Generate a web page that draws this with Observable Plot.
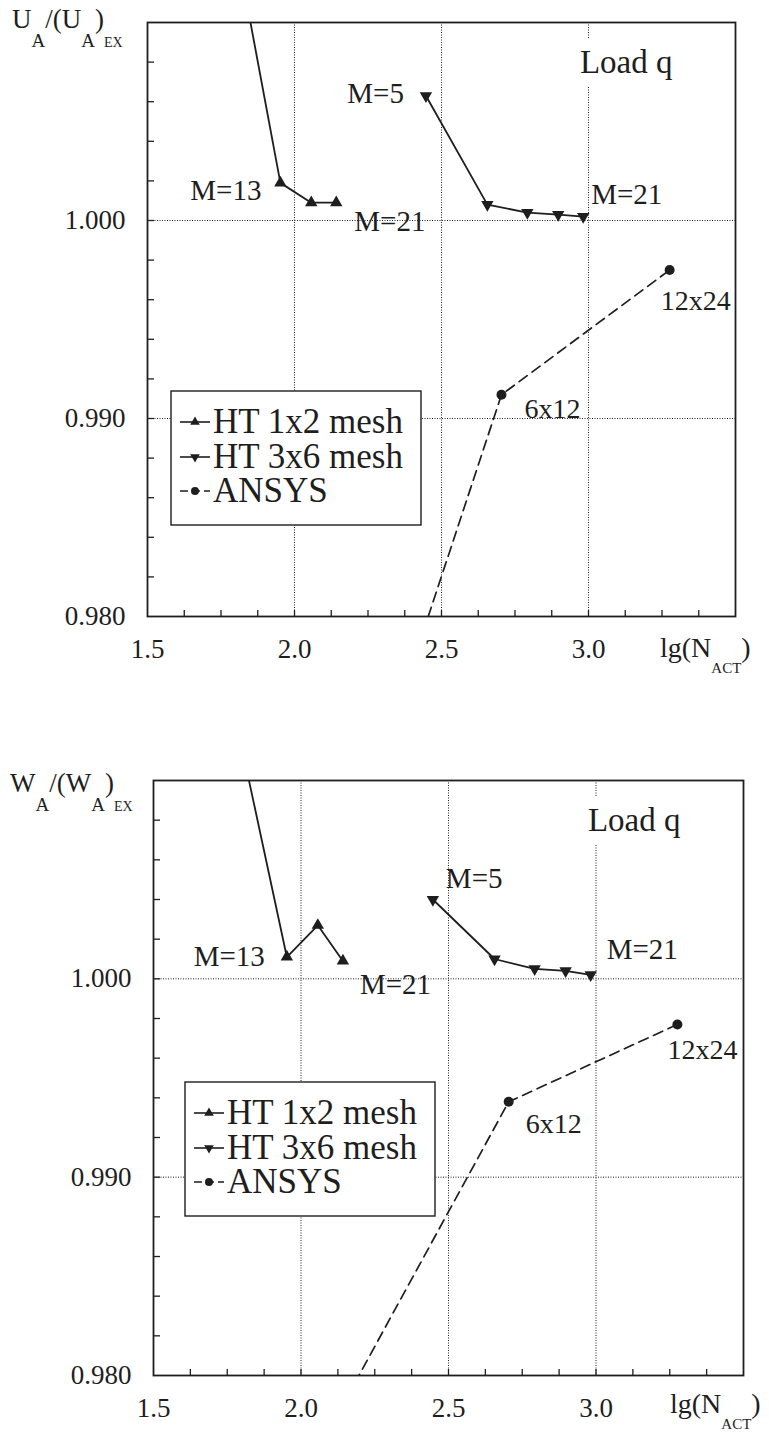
<!DOCTYPE html>
<html>
<head>
<meta charset="utf-8">
<script src="https://cdn.jsdelivr.net/npm/d3@7"></script>
<script src="https://cdn.jsdelivr.net/npm/@observablehq/plot@0.6"></script>
<style>
  html, body { margin: 0; padding: 0; background: #fff; }
  #charts svg { display: block; font-family: 'Liberation Serif', 'Times New Roman', serif; }
</style>
</head>
<body>
<div id="charts"></div>
<script>
// lg(N_ACT) of each discretisation
const xHT1 = [1.815, 1.952, 2.057, 2.142];        // HT 1x2 mesh, M = 9, 13, 17, 21
const xHT3 = [2.447, 2.656, 2.792, 2.897, 2.982];  // HT 3x6 mesh, M = 5, 9, 13, 17, 21
const xANSYS = [2.13, 2.704, 3.276];               // ANSYS meshes 3x6, 6x12, 12x24
const mHT1 = [9, 13, 17, 21];
const mHT3 = [5, 9, 13, 17, 21];
const meshANSYS = ["3x6", "6x12", "12x24"];

// U_A/(U_A)_EX
const uHT1 = [1.0128, 1.0019, 1.0009, 1.0009];
const uHT3 = [1.0063, 1.0008, 1.0004, 1.0003, 1.0002];
const uANSYS = [0.9654, 0.9912, 0.9975];

// W_A/(W_A)_EX
const wHT1 = [1.0106, 1.0011, 1.0027, 1.0009];
const wHT3 = [1.0040, 1.0010, 1.0005, 1.0004, 1.0002];
const wANSYS = [0.9782, 0.9938, 0.9977];

// axes
const xLabelTicks = [1.5, 2.0, 2.5, 3.0];
const yLabelTicks = [0.980, 0.990, 1.000];
const xGrid = [2.0, 2.5, 3.0];
const yGrid = [0.990, 1.000];
const seriesNames = ["HT 1x2 mesh", "HT 3x6 mesh", "ANSYS"];

const ink = "#1e1e1e";
const font = "'Liberation Serif', 'Times New Roman', serif";
const minorX = d3.range(1, 16).map(i => 1.5 + i * 0.125);
const minorY = d3.range(1, 15).map(i => 0.98 + i * 0.002);

const panels = [
  {
    q: "U", ht1: uHT1, ht3: uHT3, ansys: uANSYS,
    height: 700, margin: [22, 34, 84, 147],
    titleX: 12, titleY: 28, xlabX: 660, xlabY: 657,
    load: [-63, 40],
    labels: { m13: [-19, 8, "end"], m21a: [18, 19, "start"], m5: [-22, -2, "end"],
              m21b: [8, -22, "start"], a6: [23, 14, "start"], a12: [-9, 31, "start"] },
    legend: [24, 369]
  },
  {
    q: "W", ht1: wHT1, ht3: wHT3, ansys: wANSYS,
    height: 738, margin: [80, 26, 63, 153],
    titleX: 10, titleY: 92, xlabX: 670, xlabY: 713,
    load: [-63, 40],
    labels: { m13: [-22, 0, "end"], m21a: [17, 24, "start"], m5: [13, -21, "start"],
              m21b: [16, -25, "start"], a6: [17, 22, "start"], a12: [-10, 26, "start"] },
    legend: [32, 302]
  }
];

function draw(p) {
  const [mt, mr, mb, ml] = p.margin;
  const ht1 = xHT1.map((x, i) => ({x, y: p.ht1[i], m: mHT1[i]}));
  const ht3 = xHT3.map((x, i) => ({x, y: p.ht3[i], m: mHT3[i]}));
  const ans = xANSYS.map((x, i) => ({x, y: p.ansys[i], mesh: meshANSYS[i]}));

  const label = (d, text, [dx, dy, anchor], size) =>
    Plot.text([d], {x: "x", y: "y", text: () => text, dx, dy, textAnchor: anchor,
                    lineAnchor: "middle", fontSize: size, fontFamily: font, fill: ink});

  const chart = Plot.plot({
    width: 769, height: p.height,
    marginTop: mt, marginRight: mr, marginBottom: mb, marginLeft: ml,
    style: {fontFamily: font, background: "white", color: ink, overflow: "visible"},
    x: {domain: [1.5, 3.5], label: null},
    y: {domain: [0.98, 1.01], label: null},
    marks: [
      // dotted grid
      Plot.ruleX(xGrid, {stroke: ink, strokeWidth: 1, strokeDasharray: "1,1.5"}),
      Plot.ruleY(yGrid, {stroke: ink, strokeWidth: 1, strokeDasharray: "1,1.5"}),
      // inward ticks
      Plot.axisX(minorX, {tickSize: -6, tickFormat: () => "", label: null, strokeWidth: 1.3}),
      Plot.axisY(minorY, {tickSize: -7, tickFormat: () => "", label: null, strokeWidth: 1.3}),
      // tick labels
      Plot.axisX(xLabelTicks, {tickSize: 0, tickPadding: 22, fontSize: 27, fontFamily: font,
        tickFormat: d3.format(".1f"), label: null}),
      Plot.axisY(yLabelTicks, {tickSize: 0, tickPadding: 22, fontSize: 27, fontFamily: font,
        tickFormat: d3.format(".3f"), label: null}),
      // load case note
      Plot.text(["Load q"], {frameAnchor: "top-right", dx: p.load[0], dy: p.load[1],
        textAnchor: "end", lineAnchor: "middle", fontSize: 33, fontFamily: font, fill: ink,
        stroke: "white", strokeWidth: 26, strokeLinejoin: "round", paintOrder: "stroke"}),
      // series
      Plot.line(ht1, {x: "x", y: "y", stroke: ink, strokeWidth: 1.8, clip: true}),
      Plot.line(ht3, {x: "x", y: "y", stroke: ink, strokeWidth: 1.8, clip: true}),
      Plot.line(ans, {x: "x", y: "y", stroke: ink, strokeWidth: 1.7, strokeDasharray: "10,6", clip: true}),
      Plot.dot(ht1, {x: "x", y: "y", symbol: "triangle", r: 4.6, fill: ink, clip: true}),
      Plot.dot(ht3, {x: "x", y: "y", symbol: "triangle", r: 4.6, rotate: 180, fill: ink, clip: true}),
      Plot.dot(ans, {x: "x", y: "y", symbol: "circle", r: 5, fill: ink, clip: true}),
      // point annotations
      label(ht1[1], `M=${ht1[1].m}`, p.labels.m13, 29),
      label(ht1[3], `M=${ht1[3].m}`, p.labels.m21a, 29),
      label(ht3[0], `M=${ht3[0].m}`, p.labels.m5, 29),
      label(ht3[4], `M=${ht3[4].m}`, p.labels.m21b, 29),
      label(ans[1], ans[1].mesh, p.labels.a6, 28),
      label(ans[2], ans[2].mesh, p.labels.a12, 28),
      Plot.frame({stroke: ink, strokeWidth: 1.8})
    ]
  });

  const svg = d3.select(chart).style("font-family", font);
  const txt = (sel) => sel.attr("font-family", font).attr("text-anchor", "start").attr("fill", ink);

  // ordinate title with subscripts
  const t = svg.append("text").attr("x", p.titleX).attr("y", p.titleY)
    .attr("font-size", 27).call(txt);
  t.append("tspan").text(p.q);
  t.append("tspan").attr("font-size", 19).attr("dy", 19).text("A");
  t.append("tspan").attr("dy", -19).text("/(" + p.q);
  t.append("tspan").attr("font-size", 19).attr("dy", 19).text("A");
  t.append("tspan").attr("dy", -19).text(")");
  t.append("tspan").attr("font-size", 14).attr("dy", 19).text("EX");

  // abscissa title
  const xl = svg.append("text").attr("x", p.xlabX).attr("y", p.xlabY)
    .attr("font-size", 28).call(txt);
  xl.append("tspan").text("lg(N");
  xl.append("tspan").attr("font-size", 15).attr("dy", 16).text("ACT");
  xl.append("tspan").attr("dy", -16).text(")");

  // legend box
  const [lx, ly] = p.legend;
  const g = svg.append("g").attr("transform", `translate(${ml + lx},${mt + ly})`);
  g.append("rect").attr("width", 250).attr("height", 134)
    .attr("fill", "white").attr("stroke", ink).attr("stroke-width", 1.4);
  const rowY = [31, 66, 100];
  seriesNames.forEach((name, i) => {
    const y = rowY[i];
    g.append("line").attr("x1", 9).attr("x2", 39).attr("y1", y).attr("y2", y)
      .attr("stroke", ink).attr("stroke-width", 1.6)
      .attr("stroke-dasharray", i === 2 ? "8,4" : null);
    const sym = i === 2 ? d3.symbol(d3.symbolCircle, 50) : d3.symbol(d3.symbolTriangle, 40);
    g.append("path").attr("d", sym())
      .attr("transform", `translate(24,${y})` + (i === 1 ? " rotate(180)" : ""))
      .attr("fill", ink);
    g.append("text").attr("x", 42).attr("y", y + 11)
      .attr("font-size", 35).call(txt).text(name);
  });

  return chart;
}

const root = document.getElementById("charts");
panels.forEach(p => root.appendChild(draw(p)));
</script>
</body>
</html>
